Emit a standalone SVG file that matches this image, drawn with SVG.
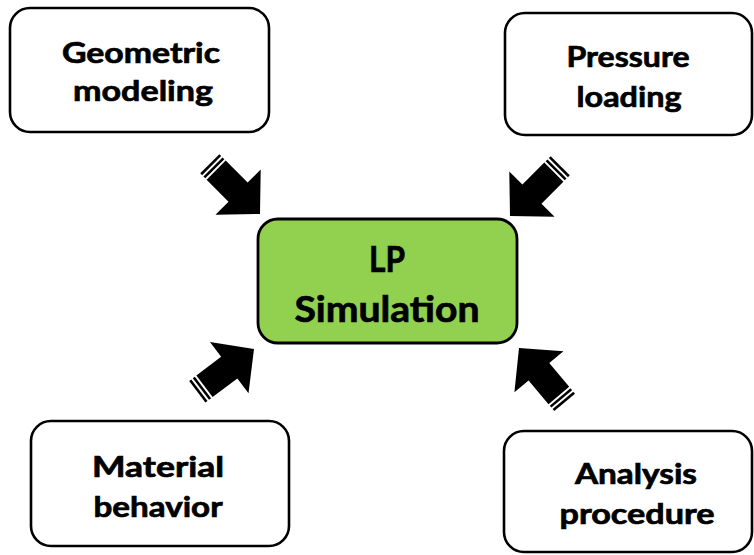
<svg xmlns="http://www.w3.org/2000/svg" xmlns:xlink="http://www.w3.org/1999/xlink" width="754" height="555" viewBox="0 0 754 555">
<style>
.box{fill:#ffffff;stroke:#000000;stroke-width:2.6}
.main{fill:#92D050;stroke:#000000;stroke-width:2.8}
.t{font-family:Lato,"Open Sans","Liberation Sans",sans-serif;font-weight:bold;font-size:29px;fill:#000000;stroke:#000000;stroke-width:0.7;text-anchor:middle}
.tb{font-size:36px}
</style>
<defs>
<g id="arrow">
<polygon points="0,0 -31,-32 -31,-13.5 -62,-13.5 -62,13.5 -31,13.5 -31,32" fill="#000"/>
<rect x="-66.5" y="-13.5" width="2.6" height="27" fill="#000"/>
<rect x="-71" y="-13.5" width="2.6" height="27" fill="#000"/>
</g>
</defs>
<rect width="754" height="555" fill="#ffffff"/>
<g id="connectors">
<use xlink:href="#arrow" href="#arrow" transform="translate(260,214) rotate(45)"/>
<use xlink:href="#arrow" href="#arrow" transform="translate(510,216) rotate(135)"/>
<use xlink:href="#arrow" href="#arrow" transform="translate(254,349) rotate(-37)"/>
<use xlink:href="#arrow" href="#arrow" transform="translate(519,348) rotate(-130)"/>
</g>
<g id="geometric">
<rect class="box" x="10" y="8" width="259" height="124" rx="20"/>
<text class="t" x="141" y="63" textLength="158" lengthAdjust="spacingAndGlyphs">Geometric</text>
<text class="t" x="143" y="101" textLength="140" lengthAdjust="spacingAndGlyphs">modeling</text>
</g>
<g id="pressure">
<rect class="box" x="505" y="13" width="247" height="122" rx="20"/>
<text class="t" x="628" y="67" textLength="123" lengthAdjust="spacingAndGlyphs">Pressure</text>
<text class="t" x="629" y="107" textLength="105" lengthAdjust="spacingAndGlyphs">loading</text>
</g>
<g id="lp">
<rect class="main" x="258" y="219" width="259" height="124" rx="20"/>
<text class="t tb" x="387" y="272" textLength="36" lengthAdjust="spacingAndGlyphs">LP</text>
<text class="t tb" x="387" y="322" textLength="185" lengthAdjust="spacingAndGlyphs">Simulation</text>
</g>
<g id="material">
<rect class="box" x="31" y="421" width="258" height="125" rx="20"/>
<text class="t" x="158" y="477" textLength="132" lengthAdjust="spacingAndGlyphs">Material</text>
<text class="t" x="158" y="517" textLength="129" lengthAdjust="spacingAndGlyphs">behavior</text>
</g>
<g id="analysis">
<rect class="box" x="504" y="431" width="248" height="121" rx="20"/>
<text class="t" x="636" y="484" textLength="122" lengthAdjust="spacingAndGlyphs">Analysis</text>
<text class="t" x="637" y="524" textLength="155" lengthAdjust="spacingAndGlyphs">procedure</text>
</g>
</svg>
